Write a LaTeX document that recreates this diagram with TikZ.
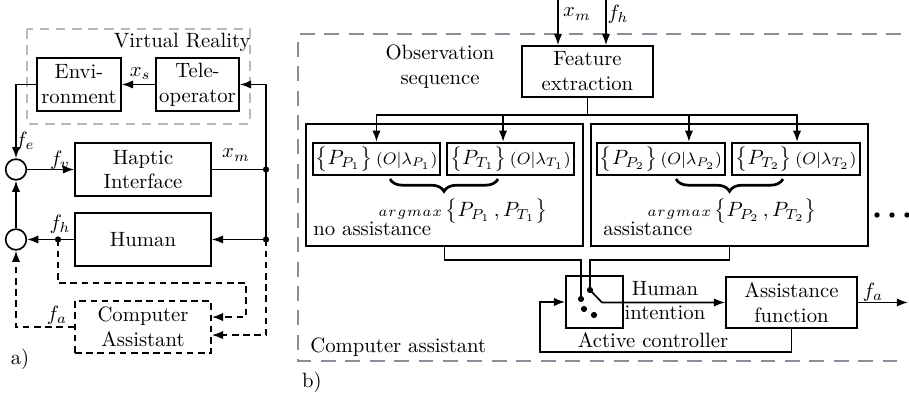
\documentclass[tikz,border=0pt]{standalone}
\usetikzlibrary{arrows.meta,decorations.pathreplacing,calc}
\def\u{0.483pt}
\definecolor{vrgray}{RGB}{185,185,185}
\definecolor{cagray}{RGB}{140,140,152}
\newcommand{\fs}[1]{\hbox{\footnotesize$#1$}}
\newcommand{\pterm}[2]{$\bigl\{P_{#1}\bigr\}\,\fs{(O|\lambda_{#2})}$}
\newcommand{\amx}[2]{{\scriptsize$a\mkern1mu r\mkern1mu g\mkern1mu m\mkern1mu a\mkern1mu x$}\,$\bigl\{P_{#1}\,,P_{#2}\bigr\}$}
\tikzset{
  ln/.style={line width=0.8pt},
  arr/.style={ln,-{Latex[length=5.4pt,width=4pt]}},
  darr/.style={arr,dashed,dash pattern=on 3.2pt off 2.2pt},
  box/.style={draw,ln,inner sep=0pt,align=center},
  bigbox/.style={draw,line width=0.6pt,inner sep=0pt},
  pbox/.style={draw,line width=1.1pt,inner sep=0pt},
  sumc/.style={draw,ln,circle,minimum size=10pt,inner sep=0pt},
  dot/.style={fill,circle,inner sep=0pt,minimum size=3pt},
  lbl/.style={inner sep=1pt},
  brc/.style={decorate,decoration={brace,mirror,amplitude=6pt},line width=1.3pt}
}
\begin{document}
\begin{tikzpicture}[x=\u,y=-\u]
\useasboundingbox (0,0) rectangle (909,396);
% ---------------- panel a ----------------
\draw[vrgray,line width=0.7pt,dash pattern=on 4.6pt off 3.2pt] (27,29) rectangle (250,124);
\node[anchor=base east,inner sep=0pt] (vr) at (251,48) {Virtual Reality};
\node[box,minimum width=84*\u,minimum height=53*\u] (env) at (79,84.5) {Envi-\\ronment};
\node[box,minimum width=83*\u,minimum height=53*\u] (tele) at (197.5,84.5) {Tele-\\operator};
\node[box,minimum width=136*\u,minimum height=53*\u] (hap) at (143,169.5) {Haptic\\Interface};
\node[box,minimum width=136*\u,minimum height=53*\u] (hum) at (143,239.5) {Human};
\node[box,dashed,dash pattern=on 3.2pt off 2.2pt,minimum width=136*\u,minimum height=52*\u] (ca) at (143,327) {Computer\\Assistant};
\node[sumc] (c1) at (16,169.5) {};
\node[sumc] (c2) at (16,239.5) {};
\node[dot] (jx) at (266,169.5) {};
\node[dot] (jh) at (266,239.5) {};
\node[dot] (jf) at (58,239.5) {};
\coordinate (d1) at (246,283);
\draw[arr] (tele.west) -- node[lbl,above=1pt,pos=0.45] {$x_s$} (env.east);
\draw[arr] (env.west) -| (c1.north);
\node[lbl] (fe) at (25,141) {$f_e$};
\draw[arr] (c1.east) -- (hap.west);
\node[lbl] (fv) at (60,160) {$f_v$};
\draw[ln] (hap.east) -- (jx.center);
\node[lbl] (xm) at (236,155) {$x_m$};
\draw[arr] (jh.center) |- (tele.east);
\draw[arr] (jh.center) -- (hum.east);
\draw[arr] (hum.west) -- (c2.east);
\node[lbl] (fhl) at (60,224) {$f_h$};
\draw[arr] (c2.north) -- (c1.south);
\draw[darr] (jf.center) |- (d1) |- ([yshift=4.8pt]ca.east);
\draw[darr] (jh.center) |- ([yshift=-3.9pt]ca.east);
\draw[darr] (ca.west) -| (c2.south);
\node[lbl] (fal) at (57,315) {$f_a$};
\node[lbl] (la) at (20,359) {a)};
% ---------------- panel b ----------------
\draw[cagray,line width=0.7pt,dash pattern=on 7.2pt off 4.6pt] (901,34) -- (298,34) -- (298,361) -- (897,361);
\node[box,minimum width=131*\u,minimum height=51*\u] (feat) at (587.5,71.5) {Feature\\extraction};
\coordinate (xmin) at (558,0);
\coordinate (fhin) at (606,0);
\draw[arr] (xmin) -- (xmin |- feat.north);
\draw[arr] (fhin) -- (fhin |- feat.north);
\node[lbl] (xml) at (577,14) {$x_m$};
\node[lbl] (fhl2) at (618,14) {$f_h$};
\node[align=center,inner sep=0pt] (obs) at (440,67) {Observation\\sequence};
\node[bigbox,minimum width=277*\u,minimum height=122*\u] (big1) at (444.5,185) {};
\node[bigbox,minimum width=277*\u,minimum height=122*\u] (big2) at (729.5,185) {};
\node[pbox,minimum width=127*\u,minimum height=32*\u] (pp1) at (376.5,159) {\pterm{P_1}{P_1}};
\node[pbox,minimum width=127*\u,minimum height=32*\u] (pt1) at (510.5,159) {\pterm{T_1}{T_1}};
\node[pbox,minimum width=128*\u,minimum height=32*\u] (pp2) at (661,159) {\pterm{P_2}{P_2}};
\node[pbox,minimum width=128*\u,minimum height=32*\u] (pt2) at (796,159) {\pterm{T_2}{T_2}};
\coordinate (sp) at (587.5,115);
\draw[ln] (feat.south) -- (sp);
\draw[arr] (sp) -| (pp1.north);
\draw[arr] (sp) -| ([xshift=-3.6pt]pt1.north);
\draw[arr] (sp) -| ([xshift=13.5pt]pp2.north);
\draw[arr] (sp) -| ([xshift=0.5pt]pt2.north);
\draw[brc] (390,179) -- (498,179);
\draw[brc] (676,179) -- (783,179);
\node[inner sep=0pt] (am1) at (463,211) {\amx{P_1}{T_1}};
\node[inner sep=0pt] (am2) at (732,211) {\amx{P_2}{T_2}};
\node[anchor=base west,inner sep=0pt] (noa) at (313,236) {no assistance};
\node[anchor=base west,inner sep=0pt] (asa) at (603,236) {assistance};
\fill (877,215) circle (1.3pt) (892,215) circle (1.3pt) (907,215) circle (1.3pt);
% active controller
\node[box,minimum width=57*\u,minimum height=52*\u] (sw) at (594.5,302) {};
\node[box,minimum width=131*\u,minimum height=51*\u] (af) at (791.5,302.5) {Assistance\\function};
\node[dot] (s1) at (581,299) {};
\node[dot] (s2) at (590,290) {};
\node[dot] (s3) at (584,309) {};
\node[dot] (s4) at (594,315) {};
\coordinate (k1) at (581,260);
\coordinate (k2) at (590,260);
\coordinate (bl) at (602,302.5);
\draw[ln] (big1.south) |- (k1) -- (s1.center);
\draw[ln] (big2.south) |- (k2) -- (s2.center);
\draw[arr] (s2.center) -- (bl) -- (af.west);
\node[align=center,inner sep=0pt] (hi) at (665,300.5) {Human\\intention};
\coordinate (fa) at (908,302.5);
\draw[arr] (af.east) -- (fa);
\node[lbl] (fal2) at (873,292) {$f_a$};
\coordinate (fb) at (540,352);
\draw[arr] (af.south) |- (fb) |- (sw.west);
\node[inner sep=0pt] (acl) at (653,340) {Active controller};
\node[anchor=west,inner sep=0pt] (cal) at (310,347) {Computer assistant};
\node[inner sep=0pt] (lb) at (312,382) {b)};
\end{tikzpicture}
\end{document}
